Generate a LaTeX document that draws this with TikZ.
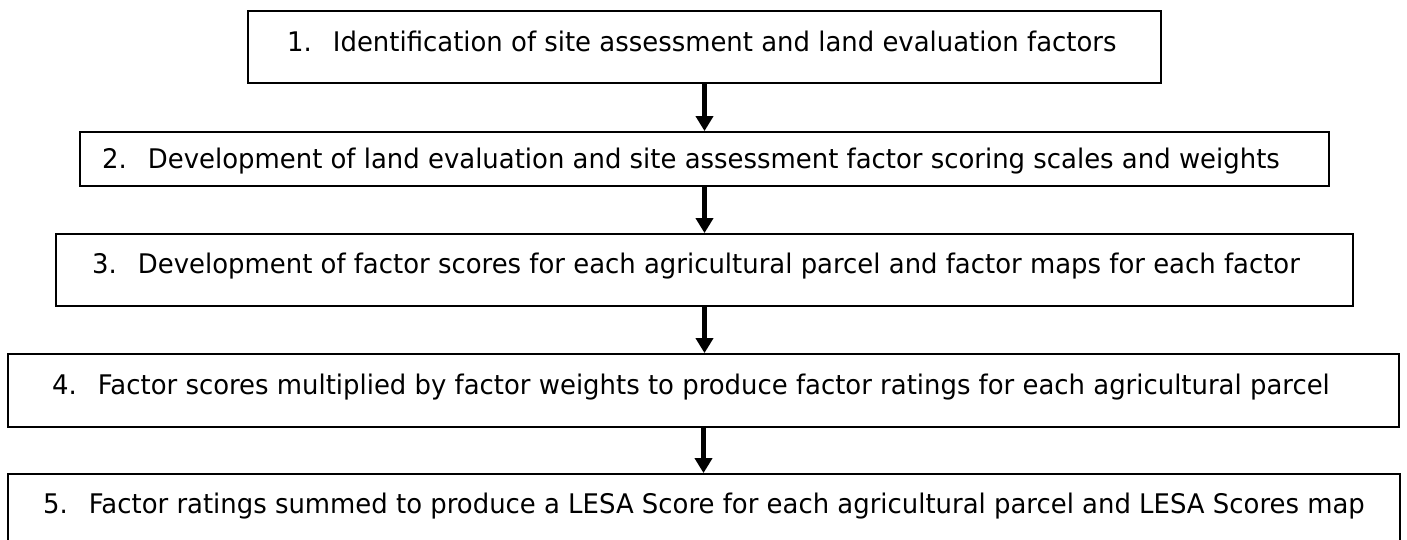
\documentclass[tikz,border=0pt]{standalone}
\usepackage{fontspec}
\setmainfont{DejaVu Sans}[FakeStretch=0.96]
\usetikzlibrary{arrows.meta}

\tikzset{
  stepbox/.style={draw=black, line width=1.8pt, rectangle, inner sep=0pt},
  steptext/.style={anchor=base west, inner sep=0pt, font=\fontsize{27}{32}\selectfont},
  flow/.style={line width=4.6pt, -{Triangle[width=17pt,length=15pt]}},
}
\newcommand{\itemno}[1]{#1.\hspace{21pt}}

\begin{document}
\begin{tikzpicture}[x=1pt, y=-1pt]
  \useasboundingbox (0,0) rectangle (1407,540);
  \clip (0,0) rectangle (1407,540);

  % process boxes
  \node[stepbox, minimum width=913pt,  minimum height=72pt] (b1) at (704.5,47) {};
  \node[stepbox, minimum width=1249pt, minimum height=54pt] (b2) at (704.5,159) {};
  \node[stepbox, minimum width=1297pt, minimum height=72pt] (b3) at (704.5,270) {};
  \node[stepbox, minimum width=1391pt, minimum height=73pt] (b4) at (703.5,390.5) {};
  \node[stepbox, minimum width=1392pt, minimum height=86pt] (b5) at (704,517) {};

  % step descriptions
  \node[steptext] (t1) at (287,52)  {\itemno{1}Identification of site assessment and land evaluation factors};
  \node[steptext] (t2) at (102,169) {\itemno{2}Development of land evaluation and site assessment factor scoring scales and weights};
  \node[steptext] (t3) at (92,273)  {\itemno{3}Development of factor scores for each agricultural parcel and factor maps for each factor};
  \node[steptext] (t4) at (52,394)  {\itemno{4}Factor scores multiplied by factor weights to produce factor ratings for each agricultural parcel};
  \node[steptext] (t5) at (43,513)  {\itemno{5}Factor ratings summed to produce a LESA Score for each agricultural parcel and LESA Scores map};

  % flow arrows
  \draw[flow] (b1.south) -- (b2.north);
  \draw[flow] (b2.south) -- (b3.north);
  \draw[flow] (b3.south) -- (b3.south |- b4.north);
  \draw[flow] (b4.south) -- (b4.south |- b5.north);
\end{tikzpicture}
\end{document}
